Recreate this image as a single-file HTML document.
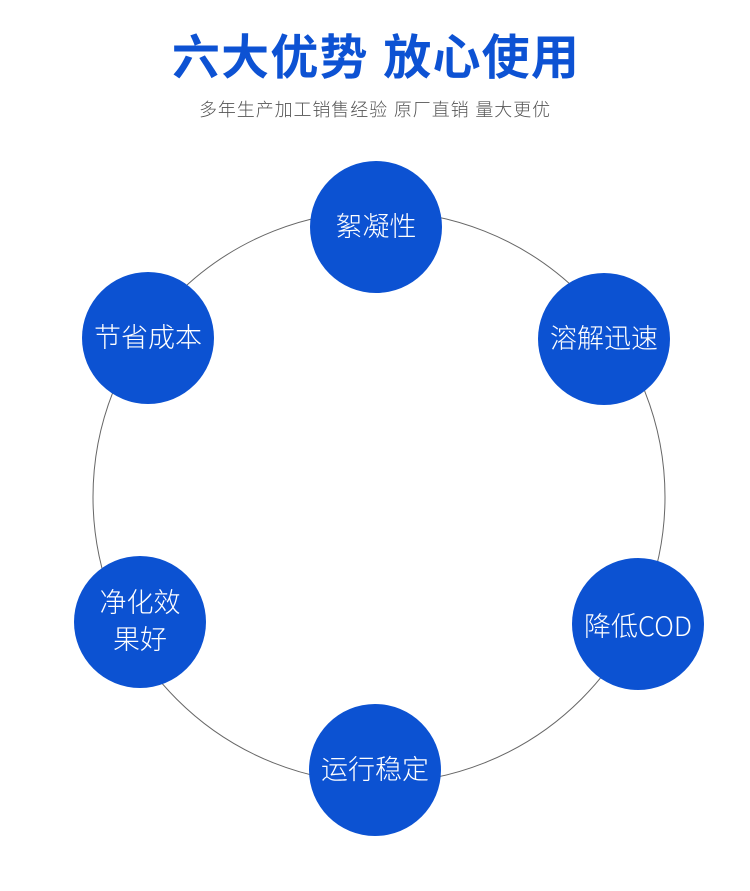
<!DOCTYPE html>
<html><head><meta charset="utf-8"><style>
body{margin:0;width:750px;height:891px;background:#fff;position:relative;overflow:hidden;font-family:"Liberation Sans","Noto Sans CJK SC",sans-serif}
.t{position:absolute;left:0;width:750px;text-align:center;top:29px;font-size:48px;font-weight:bold;color:#0d52d3;line-height:60px;letter-spacing:1.2px;margin-left:1px}
.s{position:absolute;left:0;width:750px;text-align:center;top:97px;font-size:18px;color:#555;line-height:26px;letter-spacing:0.9px;font-weight:300}
.c{position:absolute;width:132px;height:132px;border-radius:50%;background:#0c52d2;color:#fff;font-size:27px;font-weight:300;display:flex;align-items:center;justify-content:center;text-align:center;line-height:37px}
.cod{font-family:"Noto Sans CJK SC",sans-serif}
</style></head><body>
<div class="t">六大优势 放心使用</div>
<div class="s">多年生产加工销售经验 原厂直销 量大更优</div>
<svg width="750" height="891" style="position:absolute;left:0;top:0"><circle cx="379" cy="497" r="286" fill="none" stroke="#666" stroke-width="1"/></svg>
<div class="c" style="left:310px;top:161px">絮凝性</div>
<div class="c" style="left:538px;top:273px">溶解迅速</div>
<div class="c cod" style="left:572px;top:558px">降低COD</div>
<div class="c" style="left:309px;top:704px">运行稳定</div>
<div class="c" style="left:74px;top:556px">净化效<br>果好</div>
<div class="c" style="left:82px;top:272px">节省成本</div>
</body></html>
